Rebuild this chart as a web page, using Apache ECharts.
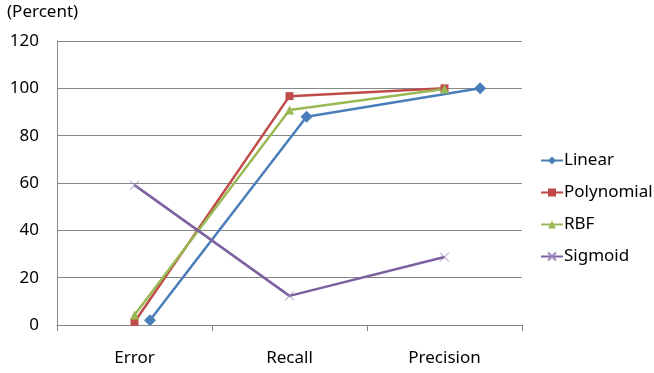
<!DOCTYPE html>
<html><head><meta charset="utf-8">
<script src="https://cdn.jsdelivr.net/npm/echarts@6/dist/echarts.min.js"></script>
<style>html,body{margin:0;padding:0;background:#fff}#c{width:654px;height:373px}</style>
</head><body><div id="c"></div>
<script>
const categories = ['Error', 'Recall', 'Precision'];
const yTicks = [0, 20, 40, 60, 80, 100, 120];
// Linear points are drawn shifted right of category centres in the reference
const linearX = [0.6, 1.61, 2.73];
const linear = [2, 88, 100];
const polynomial = [1.3, 96.7, 100];
const rbf = [4.2, 90.8, 99.7];
const sigmoid = [59.1, 12.3, 28.7];

const font = "'Noto Sans',sans-serif";
const chart = echarts.init(document.getElementById('c'));
const xMark = 'path://M0,0L10,10M10,0L0,10';
function s(name, data, color, symbol, size, xIdx, extra) {
  return Object.assign({
    name, type: 'line', data, xAxisIndex: xIdx, symbol, symbolSize: size,
    lineStyle: { color, width: 2.5 }, itemStyle: { color }, animation: false
  }, extra || {});
}
chart.setOption({
  animation: false,
  textStyle: { fontFamily: font },
  grid: { left: 57, right: 132, top: 41, bottom: 48 },
  graphic: [{ type: 'text', left: 7, top: 4, style: { text: '(Percent)', font: '17px ' + font, fill: '#000' } }],
  legend: {
    orient: 'vertical', left: 535, top: 147, itemGap: 15, itemWidth: 22, itemHeight: 10,
    textStyle: { fontSize: 17, color: '#000', fontFamily: font, padding: [0, 0, 0, -4] },
    data: ['Linear', 'Polynomial', 'RBF', 'Sigmoid']
  },
  xAxis: [{
    type: 'category', data: categories, boundaryGap: true,
    axisLine: { lineStyle: { color: '#868686', width: 1 } },
    axisTick: { show: true, length: 6, lineStyle: { color: '#868686' } },
    axisLabel: { fontSize: 17, color: '#000', margin: 25, fontFamily: font }
  }, {
    type: 'value', min: 0, max: 3, show: false
  }],
  yAxis: {
    type: 'value', min: 0, max: 120, interval: 20,
    axisLine: { show: true, lineStyle: { color: '#868686' } },
    axisTick: { show: false },
    splitLine: { lineStyle: { color: '#868686', width: 1 } },
    axisLabel: { fontSize: 17, color: '#000', margin: 18, fontFamily: font,
      formatter: v => yTicks.includes(v) ? String(v) : '' }
  },
  series: [
    s('Linear', linear.map((v, i) => [linearX[i], v]), '#4A7EBB', 'diamond', 12, 1),
    s('Polynomial', polynomial, '#BE4B48', 'rect', 8, 0),
    s('RBF', rbf, '#98B954', 'triangle', 9, 0),
    s('Sigmoid', sigmoid, '#7D60A0', xMark, 9, 0,
      { itemStyle: { color: 'rgba(0,0,0,0)', borderColor: '#9A86BA', borderWidth: 1 } })
  ]
});
</script></body></html>
